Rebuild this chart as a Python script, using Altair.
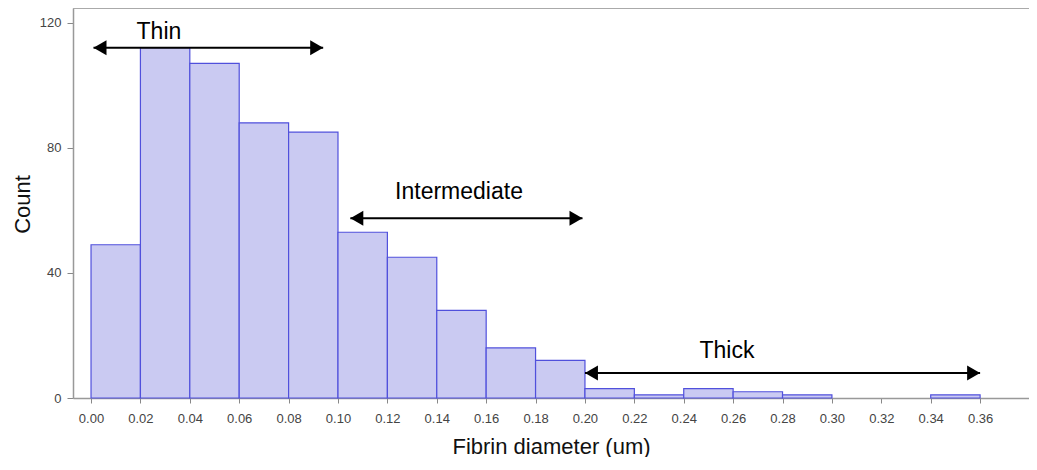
import altair as alt
import pandas as pd

# Histogram bins (um) and counts
bin_start = [0.00, 0.02, 0.04, 0.06, 0.08, 0.10, 0.12, 0.14, 0.16, 0.18,
             0.20, 0.22, 0.24, 0.26, 0.28, 0.30, 0.32, 0.34]
bin_end = [0.02, 0.04, 0.06, 0.08, 0.10, 0.12, 0.14, 0.16, 0.18, 0.20,
           0.22, 0.24, 0.26, 0.28, 0.30, 0.32, 0.34, 0.36]
counts = [49, 112, 107, 88, 85, 53, 45, 28, 16, 12,
          3, 1, 3, 2, 1, 0, 0, 1]

x_ticks = [0.00, 0.02, 0.04, 0.06, 0.08, 0.10, 0.12, 0.14, 0.16, 0.18,
           0.20, 0.22, 0.24, 0.26, 0.28, 0.30, 0.32, 0.34, 0.36]
y_ticks = [0, 40, 80, 120]

# Annotations: class labels with double-headed arrows
ann_label = ["Thin", "Intermediate", "Thick"]
ann_text_x = [0.0275, 0.149, 0.2575]
ann_text_y = [117, 66, 15]
arrow_start = [0.001, 0.105, 0.200]
arrow_end = [0.094, 0.199, 0.360]
arrow_y = [112, 57.5, 8]

FONT = "Liberation Sans"
X_DOMAIN = [-0.0073, 0.3798]
Y_DOMAIN = [0, 124.7]
W, H = 956, 390

bars_df = pd.DataFrame({"start": bin_start, "end": bin_end, "count": counts})
ann_df = pd.DataFrame({"label": ann_label, "tx": ann_text_x, "ty": ann_text_y,
                       "x1": arrow_start, "x2": arrow_end, "ay": arrow_y})

xscale = alt.Scale(domain=X_DOMAIN, nice=False, zero=False)
yscale = alt.Scale(domain=Y_DOMAIN, nice=False)

xaxis = alt.Axis(values=x_ticks, format=".2f", grid=False, title="Fibrin diameter (um)",
                 domainColor="#999999", domainWidth=1.5, tickColor="#888888", tickSize=5,
                 labelColor="#444444", labelFont=FONT, labelFontSize=13, labelPadding=9,
                 titleFont=FONT, titleFontSize=22, titleFontWeight="normal", titleColor="#111111",
                 titleX=W / 2, titleY=48, titleBaseline="middle", titleAlign="center")
yaxis = alt.Axis(values=y_ticks, grid=False, title="Count",
                 domainColor="#999999", domainWidth=1.5, tickColor="#888888", tickSize=6,
                 labelColor="#444444", labelFont=FONT, labelFontSize=13, labelPadding=6,
                 titleFont=FONT, titleFontSize=22, titleFontWeight="normal", titleColor="#111111",
                 titleX=-51, titleY=196, titleAngle=-90, titleBaseline="middle", titleAlign="center")

bars = alt.Chart(bars_df).transform_filter(alt.datum["count"] > 0).mark_rect(
    fill="#cacaf2", stroke="#5050dc", strokeWidth=1.2
).encode(
    x=alt.X("start:Q", scale=xscale, axis=xaxis),
    x2="end:Q",
    y=alt.Y("count:Q", scale=yscale, axis=yaxis),
    y2=alt.datum(0),
)

top_border = alt.Chart(bars_df).mark_rule(color="#aaaaaa", strokeWidth=2).encode(
    x=alt.value(0), x2=alt.value(W), y=alt.value(0)
)

base = alt.Chart(ann_df)
arrow_lines = base.mark_rule(color="black", strokeWidth=2).encode(
    x=alt.X("x1:Q", scale=xscale), x2="x2:Q", y=alt.Y("ay:Q", scale=yscale)
)
heads_left = base.mark_point(shape="triangle-left", filled=True, color="black",
                             opacity=1, size=225, xOffset=6.5).encode(
    x=alt.X("x1:Q", scale=xscale), y=alt.Y("ay:Q", scale=yscale)
)
heads_right = base.mark_point(shape="triangle-right", filled=True, color="black",
                              opacity=1, size=225, xOffset=-6.5).encode(
    x=alt.X("x2:Q", scale=xscale), y=alt.Y("ay:Q", scale=yscale)
)
labels = base.mark_text(font=FONT, fontSize=23, color="black", align="center",
                        baseline="middle").encode(
    x=alt.X("tx:Q", scale=xscale), y=alt.Y("ty:Q", scale=yscale), text="label:N"
)

chart = alt.layer(bars, top_border, arrow_lines, heads_left, heads_right, labels).properties(
    width=W, height=H,
    autosize=alt.AutoSizeParams(type="none"),
    padding={"left": 65, "top": 0, "right": 0, "bottom": 59},
).configure_view(stroke=None).configure(background="white")

chart.save("out.html", embed_options={"renderer": "svg", "actions": False})
